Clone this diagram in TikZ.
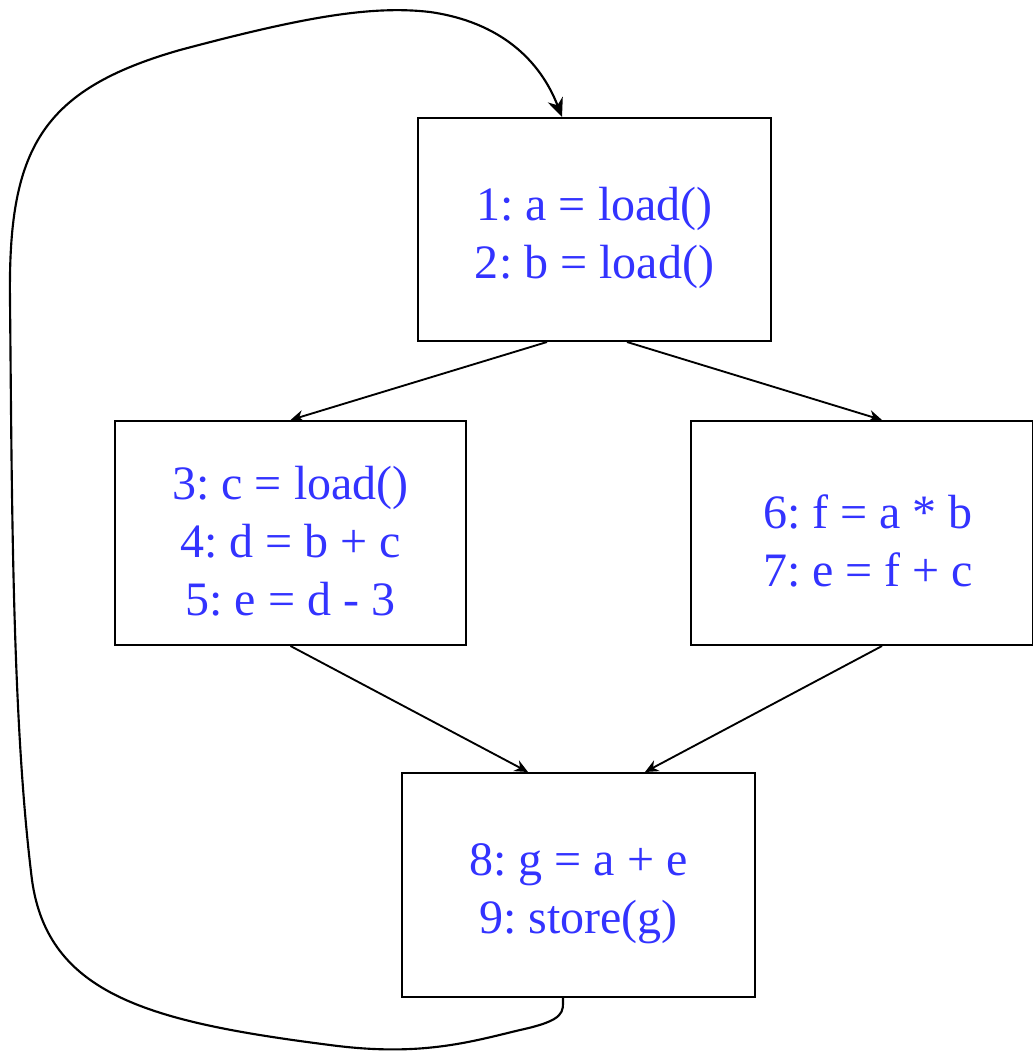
\documentclass[tikz,border=0pt]{standalone}
\usepackage{fontspec}
\setmainfont{Liberation Serif}
\newfontfamily\codefont{Liberation Serif}
\usetikzlibrary{arrows.meta}
\definecolor{codeblue}{RGB}{51,51,255}
\newcommand{\blkstrut}{\rule{0pt}{37pt}}
\frenchspacing
\begin{document}
\begin{tikzpicture}[x=0.75pt,y=-0.75pt,
  block/.style={draw,line width=1.5pt,rectangle,inner sep=0pt,
    text=codeblue,font=\codefont\frenchspacing\fontsize{36}{43.5}\selectfont,align=center},
  edge/.style={line width=1.4pt,-{Stealth[length=10pt,width=9pt]}},
  loopedge/.style={line width=1.6pt,-{Stealth[length=14pt,width=12pt]}}]
\useasboundingbox (0,0) rectangle (1032,1052);
\node[block,minimum width=353*0.75pt,minimum height=223*0.75pt] (b1) at (594.5,229.5) {\blkstrut 1: a = load()\\2: b = load()};
\node[block,minimum width=351*0.75pt,minimum height=224*0.75pt] (b2) at (290.5,533) {\blkstrut 3: c = load()\\4: d = b + c\\5: e = d - 3};
\node[block,minimum width=342*0.75pt,minimum height=224*0.75pt] (b3) at (861.5,533) {\blkstrut\hspace*{10pt}6: f = a * b\\\hspace*{10pt}7: e = f + c};
\node[block,minimum width=353*0.75pt,minimum height=224*0.75pt] (b4) at (578.5,885) {\blkstrut 8: g = a + e\\9: store(g)};
\coordinate (o1a) at ([xshift=-47.5*0.75pt]b1.south);
\coordinate (o1b) at ([xshift=32.5*0.75pt]b1.south);
\coordinate (i3) at ([xshift=20.5*0.75pt]b3.north);
\coordinate (o3) at ([xshift=20.5*0.75pt]b3.south);
\coordinate (i4a) at ([xshift=-50.5*0.75pt]b4.north);
\coordinate (i4b) at ([xshift=66.5*0.75pt]b4.north);
\coordinate (i1) at ([xshift=-32.5*0.75pt]b1.north);
\coordinate (o4) at ([xshift=-15.5*0.75pt]b4.south);
\draw[edge] (o1a) -- (b2.north);
\draw[edge] (o1b) -- (i3);
\draw[edge] (b2.south) -- (i4a);
\draw[edge] (o3) -- (i4b);
\draw[loopedge] (o4) .. controls (563,1012) and (566,1020) .. (520,1030)
  .. controls (470,1042) and (420,1057) .. (330,1045)
  .. controls (150,1022) and (48,995) .. (32,880)
  .. controls (12,720) and (12,500) .. (10,300)
  .. controls (8,150) and (40,90) .. (180,50)
  .. controls (300,18) and (370,5) .. (430,12)
  .. controls (500,22) and (540,60) .. (i1);
\end{tikzpicture}
\end{document}
